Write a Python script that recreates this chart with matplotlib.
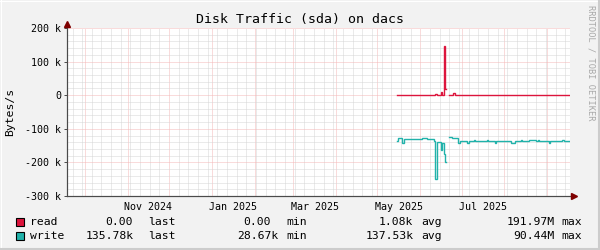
import matplotlib
matplotlib.use("Agg")
import matplotlib.pyplot as plt
import matplotlib.dates as mdates
import matplotlib.transforms as mtransforms
from matplotlib.ticker import MultipleLocator, FuncFormatter
from matplotlib.patches import Rectangle
from matplotlib.lines import Line2D
import numpy as np
import pandas as pd

W, H = 600, 250

title = "Disk Traffic (sda) on dacs"
y_label = "Bytes/s"
watermark = "RRDTOOL / TOBI OETIKER"

x_start, x_end = "2024-09-18 00:00", "2025-09-17 12:00"
y_min, y_max = -300_000, 200_000

month_labels = ["Nov 2024", "Jan 2025", "Mar 2025", "May 2025", "Jul 2025"]
month_label_at = ["2024-11-16 00:00", "2025-01-16 12:00", "2025-03-16 12:00",
                  "2025-05-16 12:00", "2025-07-16 12:00"]

# read rate (kB/s), drawn above zero; NaN = no data
read_dates = ["2025-05-15", "2025-06-12", "2025-06-13", "2025-06-16", "2025-06-17",
              "2025-06-18", "2025-06-19", "2025-06-20", "2025-06-22", "2025-06-25",
              "2025-06-26"]
read_kbps = [0, 4, 0, 10, 0, 147, 18, np.nan, 0, 8, 0]

# write rate (kB/s), drawn below zero
write_dates = ["2025-05-15", "2025-05-16", "2025-05-19", "2025-05-20", "2025-06-02",
               "2025-06-06", "2025-06-11", "2025-06-12", "2025-06-13", "2025-06-16",
               "2025-06-17", "2025-06-18", "2025-06-19", "2025-06-20", "2025-06-22",
               "2025-06-24", "2025-06-28", "2025-06-30", "2025-07-05", "2025-07-06",
               "2025-07-10", "2025-07-11", "2025-07-19", "2025-07-20", "2025-07-25",
               "2025-07-26", "2025-08-06", "2025-08-09", "2025-08-13", "2025-08-14",
               "2025-08-19", "2025-08-24", "2025-08-25", "2025-08-26", "2025-09-02",
               "2025-09-03", "2025-09-12", "2025-09-13"]
write_kbps = [135, 128, 143, 130, 128,
              130, 135, 249, 140, 163,
              143, 175, 199, np.nan, 124,
              128, 141, 137, 141, 137,
              133, 137, 133, 137, 143,
              137, 141, 137, 133, 137,
              133, 137, 133, 137, 141,
              137, 133, 135.78]
series_end = "2025-09-17"

legend_names = ["read", "write"]
legend_last = ["0.00", "135.78k"]
legend_min = ["0.00", "28.67k"]
legend_avg = ["1.08k", "137.53k"]
legend_max = ["191.97M", "90.44M"]

read_color = "#DC143C"
write_color = "#20B2AA"
back_color = "#F2F2F2"
axis_color = "#4A4A4A"
arrow_color = "#7F0000"
mono = "DejaVu Sans Mono"

plt.rcParams["font.family"] = [mono]

fig = plt.figure(figsize=(W / 100, H / 100), dpi=100, facecolor=back_color)


def fx(x):
    return x / W


def fy(y):
    return 1 - y / H


left, right, top, bottom = 67, 570, 28, 196
ax = fig.add_axes([fx(left), fy(bottom), (right - left) / W, (bottom - top) / H])
ax.set_facecolor("white")

ax.set_xlim(pd.Timestamp(x_start), pd.Timestamp(x_end))
ax.set_ylim(y_min, y_max)

# grid: month starts / 100 k in red, weeks / 20 k in grey
ax.xaxis.set_major_locator(mdates.MonthLocator())
ax.xaxis.set_minor_locator(mdates.WeekdayLocator(byweekday=mdates.SU))
ax.yaxis.set_major_locator(MultipleLocator(100_000))
ax.yaxis.set_minor_locator(MultipleLocator(20_000))
ax.grid(which="minor", color="#D6D6D6", linestyle=(0, (1, 1)), linewidth=0.72)
ax.grid(which="major", color="#F5B8B8", linestyle=(0, (1, 1)), linewidth=0.72)
ax.set_axisbelow(True)


def ytick(v, _):
    if v == 0:
        return "0"
    return f"{int(round(v / 1000))} k"


ax.yaxis.set_major_formatter(FuncFormatter(ytick))
ax.tick_params(axis="x", which="both", length=0, labelbottom=False)
ax.tick_params(axis="y", which="major", length=2.2, width=0.7, color=axis_color,
               labelsize=7.2, pad=2.2)
ax.tick_params(axis="y", which="minor", length=0)

for side in ("top", "right"):
    ax.spines[side].set_visible(False)
for side in ("left", "bottom"):
    ax.spines[side].set_color(axis_color)
    ax.spines[side].set_linewidth(0.8)

# month labels centred in their month
sec = ax.secondary_xaxis("bottom")
sec.set_xticks(mdates.date2num(pd.to_datetime(month_label_at)), labels=month_labels)
sec.tick_params(length=0, labelsize=7.2, pad=4.5)
sec.spines["bottom"].set_visible(False)


def step_series(dates, values, sign):
    d = list(pd.to_datetime(dates)) + [pd.Timestamp(series_end)]
    v = np.array(list(values) + [values[-1]], dtype=float) * 1000 * sign
    return d, v


rd, rv = step_series(read_dates, read_kbps, 1)
wd, wv = step_series(write_dates, write_kbps, -1)
ax.plot(rd, rv, drawstyle="steps-post", color=read_color, linewidth=1.0,
        solid_joinstyle="miter", zorder=3)
ax.plot(wd, wv, drawstyle="steps-post", color=write_color, linewidth=1.0,
        solid_joinstyle="miter", zorder=3)

# axis lines and arrows
up = mtransforms.offset_copy(ax.transAxes, fig=fig, x=0, y=4, units="dots")
rt = mtransforms.offset_copy(ax.transAxes, fig=fig, x=4, y=0, units="dots")
ax.add_line(Line2D([0, 0], [0, 1.02], transform=ax.transAxes, color=axis_color,
                   linewidth=0.8, clip_on=False))
ax.add_line(Line2D([0, 1.006], [0, 0], transform=ax.transAxes, color=axis_color,
                   linewidth=0.8, clip_on=False))
ax.plot([0], [1], transform=up, marker="^", markersize=5, color=arrow_color,
        clip_on=False, zorder=5)
ax.plot([1], [0], transform=rt, marker=">", markersize=5, color=arrow_color,
        clip_on=False, zorder=5)

# titles
fig.text(fx(300), fy(20), title, ha="center", va="center", fontsize=9.5)
fig.text(fx(10), fy(112), y_label, ha="center", va="center", rotation=90, fontsize=8.2)
fig.text(fx(591), fy(5), watermark, ha="center", va="top", rotation=270,
         fontsize=6.2, color="#A8A8A8")

# legend
row_y = [221.7, 236.0]
colors = [read_color, write_color]
for i in range(2):
    y = row_y[i]
    fig.patches.append(Rectangle((fx(15.5), fy(y + 4.3)), 8.5 / W, 8.5 / H,
                                 transform=fig.transFigure, facecolor=colors[i],
                                 edgecolor="black", linewidth=0.8))
    fs = 8.2
    fig.text(fx(30.5), fy(y), legend_names[i], ha="left", va="center", fontsize=fs)
    fig.text(fx(133.5 if i else 132.7), fy(y), legend_last[i], ha="right", va="center", fontsize=fs)
    fig.text(fx(148.5), fy(y), "last", ha="left", va="center", fontsize=fs)
    fig.text(fx(278.3 if i else 270.7), fy(y), legend_min[i], ha="right", va="center", fontsize=fs)
    fig.text(fx(286.7), fy(y), "min", ha="left", va="center", fontsize=fs)
    fig.text(fx(413.5), fy(y), legend_avg[i], ha="right", va="center", fontsize=fs)
    fig.text(fx(421.7), fy(y), "avg", ha="left", va="center", fontsize=fs)
    fig.text(fx(555.0), fy(y), legend_max[i], ha="right", va="center", fontsize=fs)
    fig.text(fx(561.7), fy(y), "max", ha="left", va="center", fontsize=fs)

# bevelled frame
fig.add_artist(Line2D([0, 1], [fy(0.5), fy(0.5)], transform=fig.transFigure, color="#FFFFFF", lw=0.8))
fig.add_artist(Line2D([fx(0.5), fx(0.5)], [0, 1], transform=fig.transFigure, color="#FFFFFF", lw=0.8))
fig.add_artist(Line2D([0, 1], [fy(248.5), fy(248.5)], transform=fig.transFigure, color="#CCCCCC", lw=2.2))
fig.add_artist(Line2D([fx(598.5), fx(598.5)], [0, 1], transform=fig.transFigure, color="#CCCCCC", lw=2.2))

fig.savefig("out.png", dpi=100, facecolor=back_color)
